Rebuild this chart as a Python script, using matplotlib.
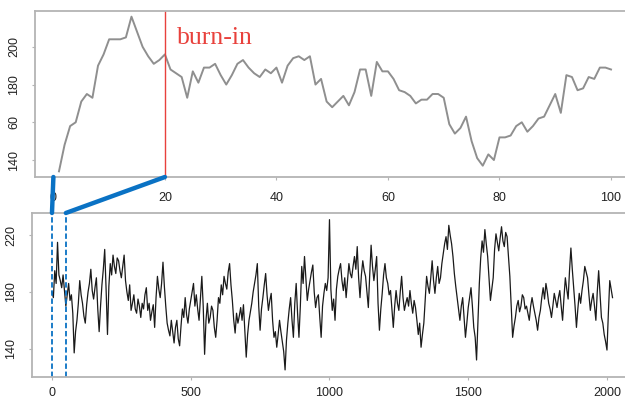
import numpy as np
import matplotlib
matplotlib.use('Agg')
import matplotlib.pyplot as plt
from matplotlib.patches import ConnectionPatch

plt.rcParams['font.family'] = ['Liberation Sans', 'DejaVu Sans']

# first 100 iterations (top panel)
top_iter = np.arange(1, 101)
top_vals = [134, 148, 158, 160, 171, 175, 173, 190, 196, 204,
            204, 204, 205, 216, 208, 200, 195, 191, 193, 196,
            188, 186, 184, 173, 187, 181, 189, 189, 191, 185,
            180, 185, 191, 193, 189, 186, 184, 188, 186, 189,
            181, 190, 194, 195, 193, 195, 180, 183, 171, 168,
            171, 174, 169, 176, 188, 188, 174, 192, 187, 187,
            183, 177, 176, 174, 170, 172, 172, 175, 175, 173,
            159, 154, 157, 163, 150, 141, 137, 143, 140, 152,
            152, 153, 158, 160, 155, 158, 162, 163, 169, 175,
            165, 185, 184, 177, 178, 184, 183, 189, 189, 188]

# full chain, read every 5 iterations (bottom panel)
bot_iter = np.arange(0, 2025, 5)
bot_vals = [180, 176, 195, 186, 215, 192, 188, 183, 192, 181, 170, 178, 186, 174, 178, 165, 137, 152, 160, 172,
            188, 178, 172, 163, 158, 171, 180, 186, 196, 181, 175, 183, 190, 168, 152, 170, 185, 196, 210, 182,
            150, 184, 200, 192, 206, 198, 193, 204, 202, 195, 190, 198, 206, 188, 180, 174, 185, 167, 172, 178,
            168, 165, 175, 170, 162, 172, 168, 178, 183, 167, 172, 160, 166, 171, 155, 176, 191, 182, 176, 186,
            201, 184, 170, 158, 153, 149, 160, 152, 144, 155, 160, 147, 142, 156, 168, 162, 176, 164, 158, 168,
            174, 180, 186, 170, 178, 168, 160, 176, 191, 170, 136, 160, 172, 158, 162, 170, 167, 155, 148, 160,
            176, 172, 185, 178, 191, 186, 182, 194, 200, 185, 174, 160, 151, 165, 158, 163, 169, 160, 171, 152,
            134, 150, 160, 166, 172, 180, 186, 192, 200, 170, 153, 168, 176, 185, 193, 178, 167, 174, 179, 160,
            148, 152, 141, 150, 160, 152, 145, 138, 125, 146, 158, 168, 176, 160, 148, 172, 186, 165, 148, 170,
            198, 186, 205, 190, 174, 182, 188, 194, 199, 180, 169, 176, 178, 162, 148, 170, 179, 186, 181, 190,
            231, 182, 167, 175, 160, 182, 191, 196, 200, 188, 181, 190, 176, 188, 200, 193, 190, 198, 205, 196,
            212, 190, 176, 192, 202, 195, 191, 180, 169, 192, 213, 198, 188, 196, 205, 172, 153, 168, 179, 192,
            200, 190, 186, 178, 181, 168, 155, 170, 181, 172, 167, 180, 191, 176, 167, 172, 176, 170, 181, 172,
            165, 174, 169, 160, 150, 158, 141, 150, 158, 175, 191, 184, 179, 190, 202, 188, 179, 190, 198, 186,
            190, 200, 207, 214, 219, 210, 227, 220, 214, 205, 193, 184, 176, 168, 160, 170, 176, 162, 148, 158,
            169, 176, 183, 170, 155, 148, 132, 160, 186, 204, 216, 208, 224, 214, 205, 190, 174, 182, 190, 210,
            221, 215, 209, 218, 226, 216, 212, 222, 219, 205, 191, 170, 148, 156, 162, 170, 174, 166, 170, 178,
            176, 168, 170, 165, 160, 170, 176, 170, 165, 160, 153, 162, 167, 176, 183, 175, 186, 180, 172, 168,
            162, 170, 179, 174, 169, 176, 181, 170, 160, 176, 190, 182, 175, 195, 211, 196, 183, 170, 155, 168,
            179, 172, 181, 188, 198, 194, 190, 178, 167, 174, 179, 170, 160, 180, 195, 178, 162, 158, 150, 145,
            139, 165, 188, 182, 176]

top_xticks = [0, 20, 40, 60, 80, 100]
top_yticks = [140, 160, 180, 200]
top_ylabels = ['140', '60', '180', '200']
bot_xticks = [0, 500, 1000, 1500, 2000]
bot_yticks = [140, 180, 220]

burn_in = 20
window = [0, 50]

blue = '#0a72c4'
red = '#e8413c'
frame = '#b4b4b4'

fig = plt.figure(figsize=(6.25, 3.98), dpi=100)
W, H = 625, 398
ax1 = fig.add_axes([35 / W, 1 - 177 / H, 605 / W, 166 / H])
ax2 = fig.add_axes([32 / W, 1 - 377 / H, 608 / W, 164 / H])

ax1.plot(top_iter, top_vals, color='#8f8f8f', lw=1.4)
ax1.axvline(burn_in, color=red, lw=1)
ax1.text(22.2, 201.5, 'burn-in', color=red, fontsize=18.5,
         family='Liberation Serif', va='baseline')
ax1.set_xlim(-3.3, 105.2)
ax1.set_ylim(131, 219)
ax1.set_xticks(top_xticks)
ax1.set_yticks(top_yticks)
ax1.set_yticklabels(top_ylabels)

ax2.plot(bot_iter, bot_vals, color='#1a1a1a', lw=0.9)
for w in window:
    ax2.axvline(w, color=blue, lw=1.3, ls=(0, (3, 1.5)))
ax2.set_xlim(-72, 2119)
ax2.set_ylim(120, 235.7)
ax2.set_xticks(bot_xticks)
ax2.set_yticks(bot_yticks)

for ax, xpad in [(ax1, 8.5), (ax2, 5)]:
    for s in ['top', 'bottom', 'left']:
        ax.spines[s].set_color(frame)
        ax.spines[s].set_linewidth(1.3)
    ax.spines['right'].set_visible(False)
    ax.tick_params(axis='both', length=2.5, color=frame, labelsize=9,
                   labelcolor='#222222')
    ax.tick_params(axis='x', pad=xpad)
    ax.tick_params(axis='y', pad=8)
    for lab in ax.get_yticklabels():
        lab.set_rotation(90)
        lab.set_va('center')

# connectors from burn-in range to the full chain
for xa, xb in [(0, window[0]), (burn_in, window[1])]:
    con = ConnectionPatch(xyA=(xa, 131), coordsA='data', axesA=ax1,
                          xyB=(xb, 235.7), coordsB='data', axesB=ax2,
                          color=blue, lw=3.2)
    fig.add_artist(con)

fig.savefig('out.png', dpi=100)
